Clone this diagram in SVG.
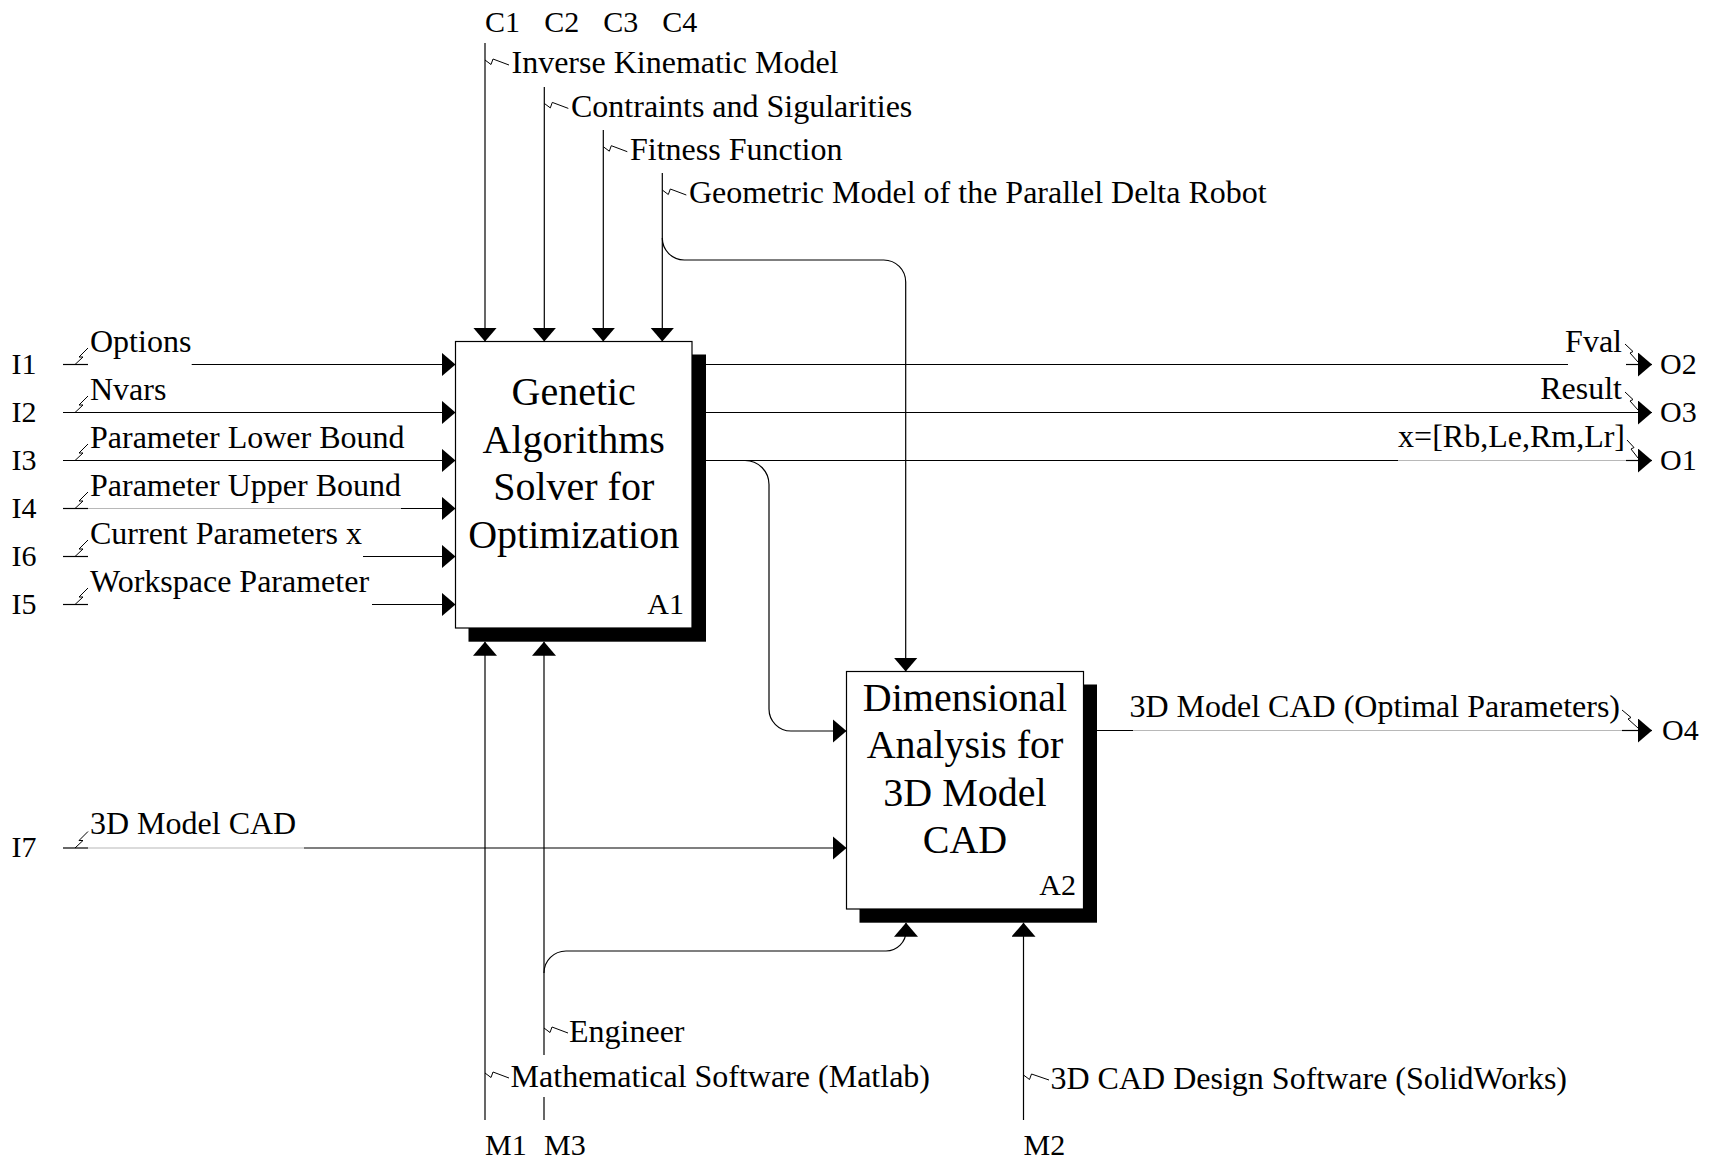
<svg xmlns="http://www.w3.org/2000/svg" width="1709" height="1160" viewBox="0 0 1709 1160">
<style>
.ln{fill:none;stroke:#000;stroke-width:1.2}
.lg{fill:none;stroke:#b8b8b8;stroke-width:1.2}
.sq{fill:none;stroke:#000;stroke-width:1}
.box{fill:#fff;stroke:#000;stroke-width:1.2}
.sh{fill:#000}
text{font-family:"Liberation Serif","Times New Roman",serif;fill:#000}
.lab{font-size:32px}
.icom{font-size:30px}
.ttl{font-size:40px;text-anchor:middle}
.num{font-size:30px;text-anchor:end}
</style>
<defs>
<marker id="ah" viewBox="0 0 14 24" refX="14" refY="12" markerWidth="14" markerHeight="24" orient="auto" markerUnits="userSpaceOnUse"><path d="M0,0 L14,12 L0,24 z" fill="#000"/></marker>
</defs>
<rect width="1709" height="1160" fill="#fff"/>

<g id="connectors">
<!-- inputs -->
<path class="ln" d="M63,364.5 H88"/><path class="ln" d="M191.7,364.5 H455.5" marker-end="url(#ah)"/>
<path class="ln" d="M63,412.5 H455.5" marker-end="url(#ah)"/>
<path class="ln" d="M63,460.5 H455.5" marker-end="url(#ah)"/>
<path class="ln" d="M63,508.5 H88"/><path class="lg" d="M88,508.5 H401"/><path class="ln" d="M401,508.5 H455.5" marker-end="url(#ah)"/>
<path class="ln" d="M63,556.5 H88"/><path class="ln" d="M363,556.5 H455.5" marker-end="url(#ah)"/>
<path class="ln" d="M63,604.5 H88"/><path class="ln" d="M372,604.5 H455.5" marker-end="url(#ah)"/>
<path class="ln" d="M63,848 H88"/><path class="lg" d="M88,848 H304"/><path class="ln" d="M304,848 H846.5" marker-end="url(#ah)"/>
<!-- controls -->
<path class="ln" d="M485,43 V341.5" marker-end="url(#ah)"/>
<path class="ln" d="M544.3,87 V341.5" marker-end="url(#ah)"/>
<path class="ln" d="M603.3,130 V341.5" marker-end="url(#ah)"/>
<path class="ln" d="M662.3,173 V341.5" marker-end="url(#ah)"/>
<path class="ln" d="M662.3,238 A22,22 0 0 0 684.3,260 H883.7 A22,22 0 0 1 905.7,282 V671.5" marker-end="url(#ah)"/>
<!-- outputs -->
<path class="ln" d="M706,364.5 H1568"/><path class="ln" d="M1626,364.5 H1652" marker-end="url(#ah)"/>
<path class="ln" d="M706,412.5 H1652" marker-end="url(#ah)"/>
<path class="ln" d="M706,460.5 H1398"/><path class="lg" d="M1398,460.5 H1626"/><path class="ln" d="M1626,460.5 H1652" marker-end="url(#ah)"/>
<path class="ln" d="M745,460.5 A24,24 0 0 1 769,484.5 V709 A22,22 0 0 0 791,731 H846.5" marker-end="url(#ah)"/>
<path class="ln" d="M1097,730.5 H1133"/><path class="lg" d="M1133,730.5 H1622"/><path class="ln" d="M1622,730.5 H1652" marker-end="url(#ah)"/>
<!-- mechanisms -->
<path class="ln" d="M485,1120 V641.7" marker-end="url(#ah)"/>
<path class="ln" d="M544,1120 V1097"/><path class="ln" d="M544,1055 V641.7" marker-end="url(#ah)"/>
<path class="ln" d="M544,973 A22,22 0 0 1 566,951 H886 A20,20 0 0 0 906,931 V922.7" marker-end="url(#ah)"/>
<path class="ln" d="M1023.5,1120 V922.7" marker-end="url(#ah)"/>
<!-- squiggles -->
<polyline class="sq" points="75,364.5 83,357 79,357 88,348"/>
<polyline class="sq" points="75,412.5 83,405 79,405 88,396"/>
<polyline class="sq" points="75,460.5 83,453 79,453 88,444"/>
<polyline class="sq" points="75,508.5 83,501 79,501 88,492"/>
<polyline class="sq" points="75,556.5 83,549 79,549 88,540"/>
<polyline class="sq" points="75,604.5 83,597 79,597 88,588"/>
<polyline class="sq" points="75,848 83,840.5 79,840.5 88,831.5"/>
<polyline class="sq" points="485,60 491,64.5 493,59 509,65"/>
<polyline class="sq" points="544.3,103.4 550.3,107.9 552.3,102.4 568.3,108.4"/>
<polyline class="sq" points="603.3,146.7 609.3,151.2 611.3,145.7 627.3,151.7"/>
<polyline class="sq" points="662.3,190 668.3,194.5 670.3,189 686.3,195"/>
<polyline class="sq" points="1625,344 1633,351.5 1630,353 1638,362"/>
<polyline class="sq" points="1625,392 1633,399.5 1630,401 1638,410"/>
<polyline class="sq" points="1627,440 1634,447.5 1631,449 1638,458"/>
<polyline class="sq" points="1622,710 1631,717.5 1628,719 1638,728"/>
<polyline class="sq" points="544,1028 550,1032.5 552,1027 568,1033"/>
<polyline class="sq" points="485,1073 491,1077.5 493,1072 509,1078"/>
<polyline class="sq" points="1023.5,1075 1029.5,1079.5 1031.5,1074 1049,1080"/>
</g>

<g id="A1">
<rect class="sh" x="468.5" y="354.5" width="237.5" height="287.2"/>
<rect class="box" x="455.5" y="341.5" width="236.5" height="286.5"/>
<text class="ttl" x="573.7" y="405">Genetic</text>
<text class="ttl" x="573.7" y="452.5">Algorithms</text>
<text class="ttl" x="573.7" y="500">Solver for</text>
<text class="ttl" x="573.7" y="547.5">Optimization</text>
<text class="num" x="684" y="614">A1</text>
</g>

<g id="A2">
<rect class="sh" x="859.5" y="684.5" width="237.5" height="238.2"/>
<rect class="box" x="846.5" y="671.5" width="237" height="237.5"/>
<text class="ttl" x="965" y="711">Dimensional</text>
<text class="ttl" x="965" y="758">Analysis for</text>
<text class="ttl" x="965" y="805.5">3D Model</text>
<text class="ttl" x="965" y="853">CAD</text>
<text class="num" x="1076" y="895">A2</text>
</g>

<g id="labels">
<text class="icom" x="11.5" y="373.5">I1</text>
<text class="icom" x="11.5" y="421.5">I2</text>
<text class="icom" x="11.5" y="469.5">I3</text>
<text class="icom" x="11.5" y="517.5">I4</text>
<text class="icom" x="11.5" y="565.5">I6</text>
<text class="icom" x="11.5" y="613.5">I5</text>
<text class="icom" x="11.5" y="857">I7</text>
<text class="lab" x="90" y="351.5">Options</text>
<text class="lab" x="90" y="399.5">Nvars</text>
<text class="lab" x="90" y="447.5">Parameter Lower Bound</text>
<text class="lab" x="90" y="495.5">Parameter Upper Bound</text>
<text class="lab" x="90" y="543.5">Current Parameters x</text>
<text class="lab" x="90" y="591.5">Workspace Parameter</text>
<text class="lab" x="90" y="834">3D Model CAD</text>

<text class="icom" x="485" y="31.7">C1</text>
<text class="icom" x="544.3" y="31.7">C2</text>
<text class="icom" x="603.3" y="31.7">C3</text>
<text class="icom" x="662.3" y="31.7">C4</text>
<text class="lab" x="511.5" y="73.3">Inverse Kinematic Model</text>
<text class="lab" x="571" y="116.7">Contraints and Sigularities</text>
<text class="lab" x="630" y="160">Fitness Function</text>
<text class="lab" x="689" y="203.3">Geometric Model of the Parallel Delta Robot</text>

<text class="lab" x="1622" y="351.5" text-anchor="end">Fval</text>
<text class="lab" x="1622" y="399" text-anchor="end">Result</text>
<text class="lab" x="1625" y="446.7" text-anchor="end">x=[Rb,Le,Rm,Lr]</text>
<text class="lab" x="1620" y="717" text-anchor="end">3D Model CAD (Optimal Parameters)</text>
<text class="icom" x="1660" y="373.5">O2</text>
<text class="icom" x="1660" y="421.5">O3</text>
<text class="icom" x="1660" y="469.5">O1</text>
<text class="icom" x="1662" y="739.5">O4</text>

<text class="lab" x="569" y="1042">Engineer</text>
<text class="lab" x="510.6" y="1087">Mathematical Software (Matlab)</text>
<text class="lab" x="1050.5" y="1089">3D CAD Design Software (SolidWorks)</text>
<text class="icom" x="485" y="1155">M1</text>
<text class="icom" x="544" y="1155">M3</text>
<text class="icom" x="1023.5" y="1155">M2</text>
</g>
</svg>
